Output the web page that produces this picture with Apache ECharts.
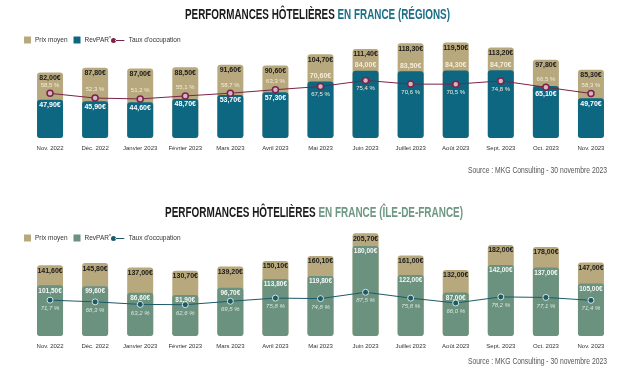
<!DOCTYPE html>
<html>
<head>
<meta charset="utf-8">
<script src="https://cdn.jsdelivr.net/npm/echarts@6/dist/echarts.min.js"></script>
<style>html,body{margin:0;padding:0;background:#fff}#c{width:640px;height:369px}</style>
</head>
<body>
<div id="c"></div>
<script>
const months = ['Nov. 2022','Déc. 2022','Janvier 2023','Février 2023','Mars 2023','Avril 2023','Mai 2023','Juin 2023','Juillet 2023','Août 2023','Sept. 2023','Oct. 2023','Nov. 2023'];
const regPrix   = [82.0, 87.8, 87.0, 88.5, 91.6, 90.6, 104.7, 111.4, 118.3, 119.5, 113.2, 97.8, 85.3];
const regRevpar = [47.9, 45.9, 44.6, 48.7, 53.7, 57.3, 70.6, 84.0, 83.5, 84.3, 84.7, 65.1, 49.7];
const regTaux   = [58.5, 52.3, 51.2, 55.1, 58.7, 63.3, 67.5, 75.4, 70.6, 70.5, 74.8, 66.5, 58.3];
const idfPrix   = [141.6, 145.8, 137.0, 130.7, 139.2, 150.1, 160.1, 205.7, 161.0, 132.0, 182.0, 178.0, 147.0];
const idfRevpar = [101.5, 99.6, 86.6, 81.9, 96.7, 113.8, 119.8, 180.0, 122.0, 87.0, 142.0, 137.0, 105.0];
const idfTaux   = [71.7, 68.3, 63.2, 62.6, 69.5, 75.8, 74.8, 87.5, 75.8, 66.0, 78.2, 77.1, 71.4];
const title1a = 'PERFORMANCES HÔTELIÈRES ', title1b = 'EN FRANCE (RÉGIONS)';
const title2a = 'PERFORMANCES HÔTELIÈRES ', title2b = 'EN FRANCE (ÎLE-DE-FRANCE)';
const sourceText = 'Source : MKG Consulting - 30 novembre 2023';

const FONT = '"Liberation Sans", Arial, sans-serif';
const BEIGE = '#b7a87d', TEAL = '#0e6781', MAROON = '#7b2347', SAGE = '#6b917f', DTEAL = '#1c5a69';
const eur = v => v.toFixed(2).replace('.', ',') + '€';
const pct = v => v.toFixed(1).replace('.', ',') + ' %';

// horizontal squeeze factor so a text fits a target width (condensed look)
const mctx = document.createElement('canvas').getContext('2d');
function squeeze(str, font, target) { mctx.font = font; return target / mctx.measureText(str).width; }

const chart = echarts.init(document.getElementById('c'), null, {renderer: 'canvas'});

const lineIcon = 'path://M0,3 a3,3 0 1,0 6,0 a3,3 0 1,0 -6,0 Z M5,2.5 L16,2.5 L16,3.5 L5,3.5 Z';
const legendText = {fontFamily: FONT, fontSize: 6.5, color: '#333', padding: [0, 0, 0, -1],
  rich: {s: {fontFamily: FONT, fontSize: 5, verticalAlign: 'top', color: '#333', padding: [0, 0, 3, 0]}}};
const fmtLegend = n => n.replace(/#2$/, '').replace('*', '{s|*}');

function xAxisFor(i) {
  return {
    type: 'category', gridIndex: i, data: months,
    axisLine: {show: false}, axisTick: {show: false},
    axisLabel: {fontFamily: FONT, fontSize: 6, color: '#333', margin: 7, interval: 0}
  };
}

function titleGraphic(a, b, colB, cx, cy, width) {
  const f = 'bold 14px "Liberation Sans"';
  return {type: 'text', x: cx, y: cy, scaleX: squeeze(a + b, f, width), z: 10,
    style: {text: '{a|' + a + '}{b|' + b + '}', align: 'center', verticalAlign: 'middle',
      rich: {a: {fontFamily: FONT, fontWeight: 'bold', fontSize: 14, fill: '#1a1a1a', color: '#1a1a1a'},
             b: {fontFamily: FONT, fontWeight: 'bold', fontSize: 14, fill: colB, color: colB}}}};
}
function sourceGraphic(rx, cy) {
  const f = '9px "Liberation Sans"';
  return {type: 'text', x: rx, y: cy, scaleX: squeeze(sourceText, f, 139), z: 10,
    style: {text: sourceText, align: 'right', verticalAlign: 'middle', font: f, fill: '#555'}};
}

const valLabel = (color, size) => ({show: true, position: 'insideTop', distance: 2, formatter: p => eur(p.value),
  fontFamily: FONT, fontWeight: 'bold', fontSize: size, color: color});

const option = {
  animation: false,
  backgroundColor: '#fff',
  graphic: [
    titleGraphic(title1a, title1b, '#1b6f86', 317.5, 15, 265),
    sourceGraphic(607, 170.5),
    titleGraphic(title2a, title2b, '#6e9785', 314, 213.5, 298),
    sourceGraphic(607, 361.5)
  ],
  legend: [
    {left: 19, top: 31, itemWidth: 7, itemHeight: 7, itemGap: 6, icon: 'rect', selectedMode: false,
     data: ['Prix moyen', 'RevPAR*'], formatter: fmtLegend, textStyle: legendText},
    {left: 106, top: 32, itemWidth: 14, itemHeight: 5, selectedMode: false,
     data: [{name: "Taux d'occupation", icon: lineIcon, itemStyle: {color: MAROON, borderWidth: 0}}],
     formatter: fmtLegend, textStyle: legendText},
    {left: 19, top: 229, itemWidth: 7, itemHeight: 7, itemGap: 6, icon: 'rect', selectedMode: false,
     data: ['Prix moyen#2', 'RevPAR*#2'], formatter: fmtLegend, textStyle: legendText},
    {left: 106, top: 230, itemWidth: 14, itemHeight: 5, selectedMode: false,
     data: [{name: "Taux d'occupation#2", icon: lineIcon, itemStyle: {color: DTEAL, borderWidth: 0}}],
     formatter: fmtLegend, textStyle: legendText}
  ],
  grid: [
    {left: 27.5, right: 26.5, top: 38, height: 100},
    {left: 27.5, right: 26.5, top: 231, height: 105}
  ],
  xAxis: [xAxisFor(0), xAxisFor(1)],
  yAxis: [
    {type: 'value', gridIndex: 0, min: 0, max: 125, show: false, splitLine: {show: false}},
    {type: 'value', gridIndex: 0, min: 0, max: 131, show: false, splitLine: {show: false}},
    {type: 'value', gridIndex: 1, min: 0, max: 210, show: false, splitLine: {show: false}}
  ],
  series: [
    {name: 'Prix moyen', type: 'bar', xAxisIndex: 0, yAxisIndex: 0, data: regPrix, barWidth: 26,
     itemStyle: {color: BEIGE, borderRadius: 3}, label: valLabel('#1a1a1a', 7)},
    {name: 'RevPAR*', type: 'bar', xAxisIndex: 0, yAxisIndex: 0, barWidth: 26, barGap: '-100%',
     data: regRevpar.map((v, i) => {
       const gap = v - regTaux[i];
       if (gap > 0 && gap < 14) return {value: v, label: {position: 'top', distance: 2, color: '#f4ecd8'}};
       if (gap <= 0 && gap > -5) return {value: v, label: {distance: 5}};
       return v;
     }),
     itemStyle: {color: TEAL, borderRadius: 3}, label: valLabel('#ffffff', 7)},
    {name: "Taux d'occupation", type: 'line', xAxisIndex: 0, yAxisIndex: 1, z: 5,
     data: regTaux.map((v, i) => ({value: v, label: {position: v > regRevpar[i] ? 'top' : 'bottom'}})),
     symbol: 'circle', symbolSize: 6, lineStyle: {color: MAROON, width: 1},
     itemStyle: {color: '#d6b3c6', borderColor: MAROON, borderWidth: 1.5},
     label: {show: true, distance: 1.5, formatter: p => pct(p.value),
             fontFamily: FONT, fontSize: 6, color: '#f4ecd8'}},

    {name: 'Prix moyen#2', type: 'bar', xAxisIndex: 1, yAxisIndex: 2, data: idfPrix, barWidth: 26,
     itemStyle: {color: BEIGE, borderRadius: 3}, label: valLabel('#1a1a1a', 7)},
    {name: 'RevPAR*#2', type: 'bar', xAxisIndex: 1, yAxisIndex: 2, data: idfRevpar, barWidth: 26, barGap: '-100%',
     itemStyle: {color: SAGE, borderRadius: 3}, label: valLabel('#f4f8f6', 6.5)},
    {name: "Taux d'occupation#2", type: 'line', xAxisIndex: 1, yAxisIndex: 2, z: 5,
     data: idfTaux, symbol: 'circle', symbolSize: 6, lineStyle: {color: DTEAL, width: 1},
     itemStyle: {color: DTEAL, borderColor: '#d8e6df', borderWidth: 1},
     label: {show: true, position: 'bottom', distance: 2, formatter: p => pct(p.value),
             fontFamily: FONT, fontStyle: 'italic', fontSize: 6, color: '#d8e6df'}}
  ]
};
chart.setOption(option);
</script>
</body>
</html>
